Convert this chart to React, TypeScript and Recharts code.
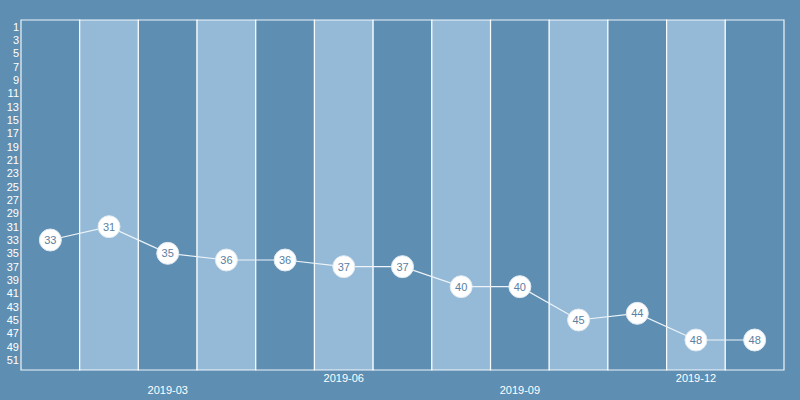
import React from 'react';
import { ComposedChart, Line, XAxis, YAxis, ReferenceArea, LabelList } from 'recharts';

const categories = ['2019-01','2019-02','2019-03','2019-04','2019-05','2019-06','2019-07','2019-08','2019-09','2019-10','2019-11','2019-12','2020-01'];
const rankValues = [33, 31, 35, 36, 36, 37, 37, 40, 40, 45, 44, 48, 48];
const xTickLabels = ['2019-03', '2019-06', '2019-09', '2019-12'];
const yTickValues = [1,3,5,7,9,11,13,15,17,19,21,23,25,27,29,31,33,35,37,39,41,43,45,47,49,51];

const data = categories.map((c, i) => ({ month: c, rank: rankValues[i] }));

const BG = '#5e8fb3';
const LIGHT = '#94bad7';
const FONT = 'Liberation Sans, Arial, sans-serif';

const XTick = (props: any) => {
  const { x, y, payload, index } = props;
  const dy = index % 2 === 0 ? 16 : 4;
  return (
    <text x={x} y={y} dy={dy} textAnchor="middle" fill="#ffffff" fontSize={11} fontFamily={FONT}>
      {payload.value}
    </text>
  );
};

export default function App() {
  return (
    <div style={{ position: 'absolute', left: 0, top: 0, width: 800, height: 400, background: BG }}>
      <ComposedChart width={800} height={400} data={data} margin={{ top: 20, right: 16, bottom: 0, left: 0 }}>
        <XAxis
          dataKey="month"
          scale="band"
          ticks={xTickLabels}
          tick={<XTick />}
          tickLine={false}
          axisLine={false}
          height={30}
          interval={0}
        />
        <YAxis
          reversed
          domain={[0, 52.5]}
          ticks={yTickValues}
          interval={0}
          width={21}
          tickLine={false}
          axisLine={false}
          tickSize={0}
          tickMargin={2}
          tick={{ fill: '#ffffff', fontSize: 11, fontFamily: FONT }}
        />
        {categories.map((c, i) => (
          <ReferenceArea
            key={c}
            x1={c}
            x2={c}
            fill={i % 2 === 0 ? BG : LIGHT}
            fillOpacity={1}
            stroke="#ffffff"
            strokeWidth={1.2}
            strokeOpacity={0.9}
            ifOverflow="visible"
          />
        ))}
        <Line
          dataKey="rank"
          stroke="#eef4f9"
          strokeWidth={1.2}
          isAnimationActive={false}
          dot={{ r: 11, fill: '#ffffff', stroke: '#dfe9f1', strokeWidth: 1 }}
          activeDot={false}
        >
          <LabelList dataKey="rank" position="center" fill="#5a80a3" fontSize={11} fontFamily={FONT} />
        </Line>
      </ComposedChart>
    </div>
  );
}
